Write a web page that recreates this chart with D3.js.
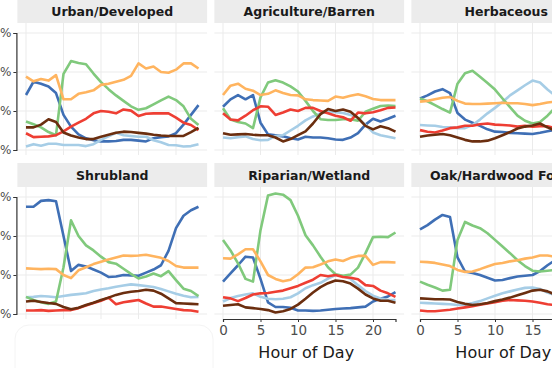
<!DOCTYPE html>
<html>
<head>
<meta charset="utf-8">
<script src="https://cdn.jsdelivr.net/npm/d3@7"></script>
<style>
  body { margin: 0; background: #fff; }
  svg { display: block; }
  text { font-family: "DejaVu Sans", sans-serif; }
</style>
</head>
<body>
<svg id="chart"></svg>
<script>
// hourly share (%) of each series, per land cover panel
const yTicks = [0, 10, 20, 30];
const xTicks = [0, 5, 10, 15, 20];
const seriesKeys = ['blue', 'lightblue', 'green', 'orange', 'red', 'brown'];
const seriesColors = ['#3f6fb5', '#a6cde6', '#80c97c', '#ffb45f', '#ee3e33', '#6b2e0f'];
const panelNames = ['Urban/Developed', 'Agriculture/Barren', 'Herbaceous',
  'Shrubland', 'Riparian/Wetland', 'Oak/Hardwood Forest'];

const urban = {
  blue: [14.1, 17.5, 17.0, 16.3, 14.6, 9.0, 6.0, 4.0, 3.0, 2.5, 2.2, 2.2, 2.3, 2.6, 2.6, 2.4, 2.2, 3.0, 3.3, 3.5, 4.3, 6.5, 9.0, 11.5],
  lightblue: [0.9, 1.5, 1.1, 1.6, 1.6, 1.3, 1.3, 1.3, 1.0, 1.5, 2.6, 3.5, 4.4, 3.8, 3.6, 3.4, 3.4, 2.5, 2.0, 1.3, 1.2, 0.9, 1.0, 1.5],
  green: [7.3, 6.6, 5.8, 4.6, 3.8, 19.5, 22.8, 22.3, 22.0, 19.6, 17.4, 15.6, 14.0, 12.6, 11.2, 10.3, 10.7, 11.7, 12.7, 13.7, 12.8, 11.2, 8.0, 6.4],
  orange: [18.8, 17.6, 18.2, 17.8, 19.2, 13.0, 13.0, 14.4, 14.8, 15.3, 16.7, 17.0, 17.5, 18.0, 19.0, 22.2, 20.9, 21.4, 20.0, 19.8, 20.6, 22.2, 22.2, 20.9],
  red: [4.3, 3.3, 3.4, 3.5, 3.8, 4.8, 6.0, 7.0, 8.0, 9.4, 10.0, 9.8, 9.4, 10.4, 10.1, 8.7, 9.3, 9.4, 9.4, 9.4, 8.3, 7.0, 6.4, 5.1],
  brown: [5.8, 5.8, 6.5, 7.9, 7.2, 4.5, 3.7, 3.2, 2.8, 2.8, 3.4, 3.9, 4.4, 4.7, 4.6, 4.4, 4.2, 3.9, 3.7, 3.6, 3.6, 3.6, 4.6, 5.7],
};

const agriculture = {
  blue: [11.1, 13.0, 14.1, 13.0, 14.1, 7.0, 4.0, 3.8, 3.5, 3.0, 2.7, 3.4, 3.2, 3.2, 3.0, 2.7, 2.6, 3.2, 4.3, 6.5, 8.0, 7.3, 8.0, 8.8],
  lightblue: [3.2, 3.0, 3.3, 3.5, 2.8, 2.5, 2.6, 3.6, 3.8, 5.0, 6.2, 7.6, 8.6, 9.4, 9.8, 9.7, 9.5, 9.0, 8.2, 6.4, 4.5, 3.8, 3.4, 3.0],
  green: [10.7, 7.8, 7.2, 6.8, 5.6, 13.5, 17.3, 17.9, 17.3, 16.3, 15.0, 12.6, 10.0, 7.9, 7.7, 7.7, 7.9, 7.9, 7.5, 9.8, 10.6, 11.3, 11.4, 11.3],
  orange: [14.1, 16.5, 17.0, 15.7, 15.2, 14.1, 14.4, 15.3, 14.6, 14.1, 14.0, 13.0, 12.8, 12.7, 12.6, 13.7, 13.4, 13.9, 14.3, 13.8, 13.1, 12.8, 12.8, 12.8],
  red: [9.4, 7.8, 7.6, 8.8, 10.2, 11.2, 11.1, 9.0, 9.6, 10.4, 10.0, 10.8, 10.8, 10.0, 9.4, 8.8, 8.4, 7.5, 9.6, 9.4, 9.7, 10.2, 10.8, 10.9],
  brown: [4.3, 3.9, 4.0, 4.1, 3.9, 3.8, 3.8, 3.2, 2.2, 2.8, 3.8, 4.8, 6.8, 9.2, 10.5, 10.0, 10.4, 9.8, 8.2, 6.2, 5.3, 6.1, 5.6, 4.7],
};

// only hours 0-18 are inside the frame for the right column
const herbaceous = {
  blue: [13.2, 14.0, 15.0, 15.6, 14.6, 9.5, 7.8, 7.0, 6.2, 5.3, 4.7, 4.6, 4.4, 4.3, 4.2, 4.1, 4.4, 4.8, 5.2],
  lightblue: [6.4, 6.3, 6.2, 5.9, 5.8, 5.6, 5.6, 6.4, 7.8, 9.4, 10.8, 12.3, 14.0, 15.3, 16.6, 17.8, 17.3, 15.5, 14.0],
  green: [13.2, 12.5, 11.5, 10.5, 9.6, 17.0, 19.7, 20.3, 18.8, 17.2, 15.5, 13.2, 11.0, 8.8, 7.5, 6.8, 7.2, 8.8, 10.8],
  orange: [12.4, 12.6, 13.0, 13.4, 13.6, 12.6, 11.9, 11.8, 11.8, 11.9, 12.0, 12.1, 12.0, 12.0, 11.8, 11.5, 11.8, 12.2, 12.4],
  red: [5.1, 4.7, 4.5, 5.0, 5.6, 5.8, 6.2, 6.2, 6.6, 6.8, 6.5, 6.4, 6.3, 6.0, 6.2, 6.0, 6.1, 6.1, 5.6],
  brown: [3.4, 3.7, 3.9, 4.1, 3.8, 3.2, 2.6, 2.2, 2.2, 2.4, 3.0, 3.8, 4.6, 5.5, 6.0, 6.3, 6.8, 5.8, 5.0],
};

const shrubland = {
  blue: [27.5, 27.5, 29.0, 29.2, 28.9, 20.0, 11.0, 12.6, 12.2, 11.4, 10.6, 9.5, 9.6, 10.0, 9.9, 9.8, 10.6, 11.4, 12.5, 16.2, 22.0, 25.2, 26.6, 27.5],
  lightblue: [4.3, 4.4, 4.6, 4.5, 4.3, 4.6, 4.9, 5.1, 5.3, 5.9, 6.3, 6.6, 7.0, 7.3, 7.6, 7.4, 7.2, 6.9, 6.4, 5.8, 5.2, 4.7, 4.3, 4.4],
  green: [4.4, 3.6, 3.0, 2.6, 3.2, 12.0, 24.0, 20.0, 17.6, 16.3, 14.7, 13.3, 12.9, 11.6, 10.3, 9.1, 9.6, 10.4, 9.7, 11.0, 8.7, 6.5, 5.9, 4.6],
  orange: [11.7, 11.6, 11.5, 11.6, 11.5, 10.0, 9.2, 11.2, 12.0, 12.8, 13.4, 14.0, 14.5, 15.0, 14.9, 15.0, 15.2, 14.8, 14.4, 13.6, 12.3, 11.9, 11.9, 11.9],
  red: [0.9, 0.9, 1.0, 0.8, 0.9, 1.0, 1.0, 1.5, 2.2, 2.8, 3.4, 4.2, 2.5, 3.0, 3.3, 3.6, 2.7, 1.9, 1.9, 1.6, 1.3, 1.0, 0.9, 0.6],
  brown: [3.2, 3.4, 3.1, 2.8, 2.6, 1.8, 1.2, 1.6, 2.3, 2.9, 3.6, 4.2, 4.9, 5.4, 5.7, 5.9, 6.2, 6.0, 5.2, 4.0, 2.8, 2.7, 2.6, 2.5],
};

const riparian = {
  blue: [8.3, 10.4, 12.5, 14.7, 14.5, 9.0, 3.0, 1.8, 1.8, 1.6, 0.9, 0.9, 0.8, 0.9, 1.1, 1.3, 1.4, 1.5, 1.7, 1.9, 3.2, 3.9, 4.5, 5.6],
  lightblue: [3.2, 4.1, 4.6, 5.0, 5.3, 4.4, 3.9, 3.8, 3.9, 4.3, 5.3, 6.6, 7.4, 8.0, 9.1, 10.0, 9.7, 9.0, 7.4, 5.9, 4.7, 4.0, 3.6, 3.6],
  green: [19.0, 16.3, 13.0, 9.0, 8.3, 21.5, 30.4, 30.9, 30.6, 29.2, 25.2, 20.2, 17.6, 14.7, 12.0, 10.2, 9.8, 10.1, 11.9, 15.6, 19.7, 19.8, 19.7, 20.9],
  orange: [14.3, 14.2, 15.3, 16.6, 16.6, 13.5, 10.0, 9.0, 8.4, 8.8, 10.2, 11.9, 12.0, 12.7, 13.5, 14.0, 13.6, 14.4, 14.9, 14.9, 12.6, 13.3, 13.3, 13.2],
  red: [4.3, 4.0, 3.3, 4.1, 5.0, 5.3, 5.4, 5.7, 6.0, 6.6, 7.2, 8.0, 8.8, 10.0, 9.7, 10.0, 9.5, 9.3, 8.9, 7.4, 7.2, 6.0, 5.3, 4.4],
  brown: [2.1, 2.3, 2.5, 1.7, 1.5, 1.3, 1.0, 0.4, 0.7, 1.3, 2.4, 3.9, 5.5, 6.9, 7.9, 8.6, 8.4, 7.8, 6.5, 5.0, 4.0, 3.4, 3.4, 2.9],
};

const oak = {
  blue: [21.7, 22.8, 24.2, 25.4, 24.9, 14.5, 10.9, 10.5, 10.0, 9.3, 8.6, 8.7, 9.2, 9.6, 9.8, 10.0, 11.0, 12.5, 13.8],
  lightblue: [2.9, 2.8, 2.7, 2.6, 2.5, 2.3, 2.4, 2.8, 3.3, 4.0, 4.7, 5.3, 5.8, 6.3, 6.7, 6.8, 6.4, 5.5, 4.8],
  green: [8.3, 7.5, 6.8, 6.0, 6.2, 19.0, 23.6, 22.7, 22.0, 20.7, 19.0, 17.3, 15.6, 13.8, 12.3, 11.1, 10.9, 11.1, 11.3],
  orange: [13.4, 13.3, 13.1, 12.7, 12.3, 11.3, 10.8, 10.9, 11.5, 12.2, 12.8, 13.1, 13.5, 13.8, 14.2, 14.5, 15.0, 15.0, 14.7],
  red: [0.9, 0.7, 0.7, 0.9, 1.1, 1.4, 1.7, 2.0, 2.4, 2.7, 3.0, 3.4, 3.6, 3.5, 3.4, 3.2, 2.9, 2.5, 2.3],
  brown: [4.0, 3.9, 3.8, 3.8, 3.7, 3.1, 2.6, 2.3, 2.5, 2.8, 3.3, 3.7, 4.2, 4.8, 5.4, 6.0, 6.2, 5.8, 5.0],
};

const panelData = [urban, agriculture, herbaceous, shrubland, riparian, oak];

const width = 552;
const height = 368;
const colX = [17.4, 214.4, 411.4];
const rowY = [23, 187];
const panelW = 189.7;
const panelH = 132;
const stripH = 24;

const svg = d3.select('#chart').attr('width', width).attr('height', height);

const x = d3.scaleLinear().domain([0, 23]).range([8.6, panelW - 8.6]);
const y = d3.scaleLinear().domain([0, 30]).range([127, 10]);
const color = d3.scaleOrdinal().domain(seriesKeys).range(seriesColors);

const line = d3.line()
  .x((d, i) => x(i))
  .y((d) => y(d));

panelNames.forEach((name, p) => {
  const col = p % 3;
  const row = Math.floor(p / 3);
  const g = svg.append('g')
    .attr('transform', `translate(${colX[col]},${rowY[row]})`);

  // strip
  g.append('rect')
    .attr('x', 0).attr('y', -stripH)
    .attr('width', panelW).attr('height', stripH)
    .attr('fill', '#ececec');
  g.append('text')
    .attr('x', panelW / 2).attr('y', -7.5)
    .attr('text-anchor', 'middle')
    .attr('font-size', 12.5).attr('font-weight', 'bold')
    .attr('fill', '#1a1a1a')
    .text(name);

  // grid
  g.append('g').selectAll('line')
    .data(xTicks).join('line')
    .attr('x1', (d) => x(d)).attr('x2', (d) => x(d))
    .attr('y1', 0).attr('y2', panelH)
    .attr('stroke', '#ebebeb').attr('stroke-width', 1);
  g.append('g').selectAll('line')
    .data(yTicks).join('line')
    .attr('x1', 0).attr('x2', panelW)
    .attr('y1', (d) => y(d)).attr('y2', (d) => y(d))
    .attr('stroke', '#ebebeb').attr('stroke-width', 1);

  // series
  const data = panelData[p];
  g.append('g').selectAll('path')
    .data(seriesKeys).join('path')
    .attr('d', (k) => line(data[k]))
    .attr('fill', 'none')
    .attr('stroke', (k) => color(k))
    .attr('stroke-width', 2.6)
    .attr('stroke-linejoin', 'round');

  if (col === 0) {
    const ya = g.append('g')
      .attr('transform', 'translate(-1,0)')
      .call(d3.axisLeft(y).tickValues(yTicks).tickSize(3).tickPadding(2)
        .tickFormat((d) => d + '%'));
    ya.select('.domain').attr('stroke', '#333').attr('stroke-width', 1.2);
    ya.selectAll('.tick line').attr('stroke', '#333');
    ya.selectAll('text').attr('font-size', 12).attr('fill', '#4d4d4d')
      .attr('font-family', '"DejaVu Sans", sans-serif');
  }

  if (row === 1 && col > 0) {
    const xa = g.append('g')
      .attr('transform', `translate(0,${panelH})`)
      .call(d3.axisBottom(x).tickValues(xTicks).tickSize(3).tickPadding(3));
    xa.select('.domain').attr('stroke', '#333').attr('stroke-width', 1.2);
    xa.selectAll('.tick line').attr('stroke', '#333');
    xa.selectAll('text').attr('font-size', 13.5).attr('fill', '#4d4d4d')
      .attr('font-family', '"DejaVu Sans", sans-serif');
    g.append('text')
      .attr('x', panelW / 2 - 3).attr('y', panelH + 39)
      .attr('text-anchor', 'middle')
      .attr('font-size', 16).attr('fill', '#1a1a1a')
      .text('Hour of Day');
  }
});

// white rounded box that hides the lower-left corner
svg.append('rect')
  .attr('x', 15).attr('y', 325)
  .attr('width', 198).attr('height', 60)
  .attr('rx', 14)
  .attr('fill', '#fff')
  .attr('stroke', '#f4f4f4');
</script>
</body>
</html>
